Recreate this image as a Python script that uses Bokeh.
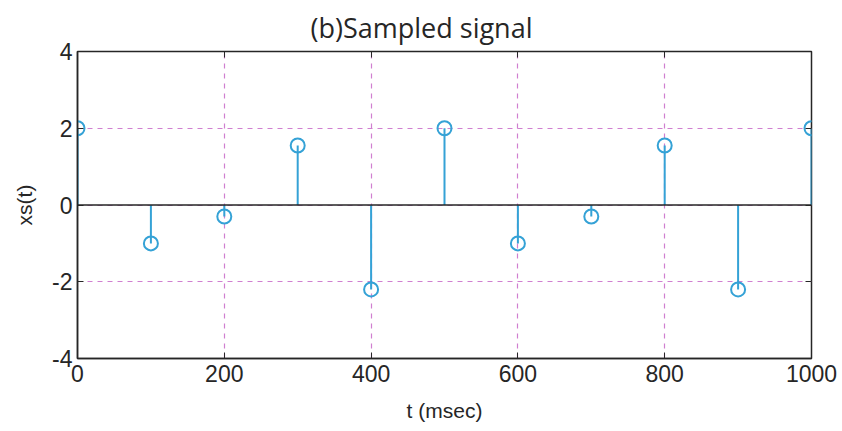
from bokeh.plotting import figure
from bokeh.models import Span, LinearAxis, FixedTicker, Range1d
from bokeh.embed import file_html
from bokeh.resources import INLINE

t_ms = [0, 100, 200, 300, 400, 500, 600, 700, 800, 900, 1000]
xs = [2.0, -1.0, -0.3, 1.55, -2.2, 2.0, -1.0, -0.3, 1.55, -2.2, 2.0]
x_ticks = [0, 200, 400, 600, 800, 1000]
y_ticks = [-4, -2, 0, 2, 4]
y_tick_labels = {-4: "-4", -2: "-2", 0: "0", 2: "2", 4: "4"}

stem_color = "#35a2d6"
grid_color = "#d07fd0"
ink = "#262626"

p = figure(width=842, height=431, output_backend="svg", toolbar_location=None,
           x_range=Range1d(0, 1000), y_range=Range1d(-4, 4),
           min_border_left=77, min_border_right=31, min_border_top=50, min_border_bottom=73,
           title="(b)Sampled signal")
p.title.align = "left"
p.title.offset = 233
p.title.text_font = "Open Sans"
p.title.text_font_size = "27px"
p.title.text_font_style = "normal"
p.title.text_color = ink
p.title.standoff = 12

p.outline_line_color = ink
p.outline_line_width = 1.5

for ax in (p.xaxis[0], p.yaxis[0]):
    ax.major_label_text_font = "Liberation Sans"
    ax.major_label_text_font_size = "23px"
    ax.major_label_text_color = ink
    ax.axis_label_text_font = "Liberation Sans"
    ax.axis_label_text_font_size = "21px"
    ax.axis_label_text_font_style = "normal"
    ax.axis_label_text_color = ink
    ax.major_tick_in = 6
    ax.major_tick_out = 0
    ax.minor_tick_line_color = None
    ax.axis_line_color = ink
    ax.axis_line_width = 1.5
    ax.major_tick_line_color = ink

p.xaxis[0].ticker = FixedTicker(ticks=x_ticks)
p.yaxis[0].ticker = FixedTicker(ticks=y_ticks)
p.yaxis[0].major_label_overrides = y_tick_labels
p.xaxis[0].axis_label = "t (msec)"
p.yaxis[0].axis_label = "xs(t)"
p.xaxis[0].major_label_standoff = 6
p.yaxis[0].major_label_standoff = 5
p.xaxis[0].axis_label_standoff = 14
p.yaxis[0].axis_label_standoff = 13

top = LinearAxis(ticker=FixedTicker(ticks=x_ticks),
                 major_label_overrides={t: "" for t in x_ticks},
                 major_tick_in=6, major_tick_out=0, minor_tick_line_color=None,
                 axis_line_color=None, major_tick_line_color=ink)
right = LinearAxis(ticker=FixedTicker(ticks=y_ticks),
                   major_label_overrides={t: "" for t in y_ticks},
                   major_tick_in=6, major_tick_out=0, minor_tick_line_color=None,
                   axis_line_color=None, major_tick_line_color=ink)
p.add_layout(top, "above")
p.add_layout(right, "right")

p.xgrid.ticker = FixedTicker(ticks=x_ticks)
p.ygrid.ticker = FixedTicker(ticks=y_ticks)
p.grid.grid_line_color = grid_color
p.grid.grid_line_dash = "5 5"
p.grid.grid_line_width = 1.2

p.add_layout(Span(location=0, dimension="width", line_color=ink, line_width=1.5))

p.segment(x0=t_ms, y0=[0] * len(t_ms), x1=t_ms, y1=xs, line_color=stem_color, line_width=2)
p.scatter(x=t_ms, y=xs, marker="circle", size=14, fill_color=None,
          line_color=stem_color, line_width=2)

open("out.html", "w").write(file_html(p, INLINE))
